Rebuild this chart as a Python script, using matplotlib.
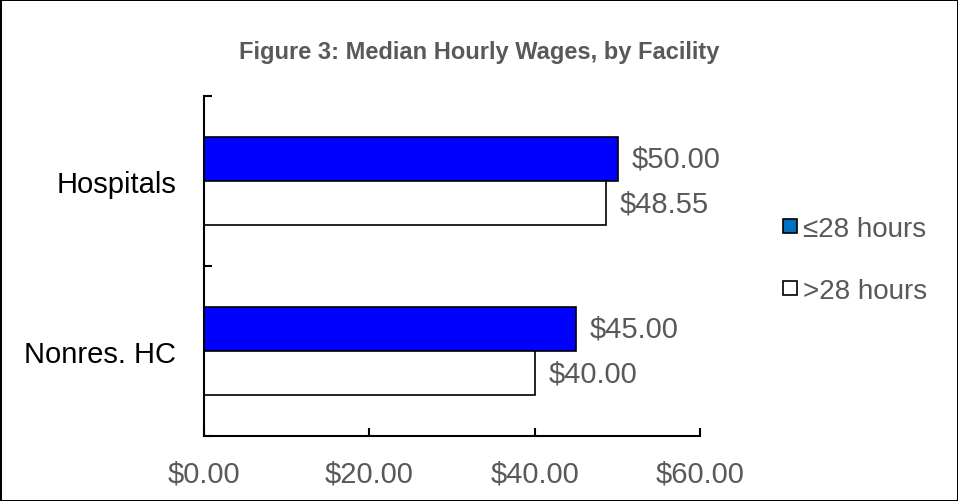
import numpy as np
import matplotlib.pyplot as plt
from matplotlib.lines import Line2D

plt.rcParams['font.family'] = ['Liberation Sans', 'DejaVu Sans']

# Datos
facilities = ['Nonres. HC', 'Hospitals']
le28 = [45.00, 50.00]
gt28 = [40.00, 48.55]
series_names = ['\u226428 hours', '>28 hours']
xticks = [0, 20, 40, 60]

gray = '#595959'

fig = plt.figure(figsize=(9.58, 5.02), dpi=100)
fig.patch.set_edgecolor('black')
fig.patch.set_linewidth(2)
ax = fig.add_axes([0.213, 0.1295, 0.518, 0.6775])

y = np.arange(len(facilities)) + 0.5
h = 0.26
b1 = ax.barh(y + h / 2, le28, height=h, color='#0000FF', edgecolor='black', linewidth=1.2)
b2 = ax.barh(y - h / 2, gt28, height=h, color='white', edgecolor='black', linewidth=1.2)
ax.bar_label(b1, labels=['$%.2f' % v for v in le28], padding=10, fontsize=21, color=gray)
ax.bar_label(b2, labels=['$%.2f' % v for v in gt28], padding=10, fontsize=21, color=gray)

ax.set_xlim(0, 60)
ax.set_ylim(0, 2)
ax.set_xticks(xticks)
ax.set_xticklabels(['$%.2f' % v for v in xticks])
ax.tick_params(axis='x', direction='in', length=6, width=1.5, labelsize=21,
               labelcolor=gray, pad=17)

ax.set_yticks([0, 1, 2])
ax.set_yticklabels([])
ax.tick_params(axis='y', which='major', direction='in', length=6, width=1.5)
ax.set_yticks(y, minor=True)
ax.set_yticklabels(facilities, minor=True)
ax.tick_params(axis='y', which='minor', length=0, labelsize=21, pad=20)

for s in ['top', 'right']:
    ax.spines[s].set_visible(False)
for s in ['left', 'bottom']:
    ax.spines[s].set_linewidth(1.5)

handles = [
    Line2D([], [], marker='s', linestyle='', markersize=10, markerfacecolor='#0070C0',
           markeredgecolor='black', markeredgewidth=1.2),
    Line2D([], [], marker='s', linestyle='', markersize=10, markerfacecolor='white',
           markeredgecolor='black', markeredgewidth=1.2),
]
leg = fig.legend(handles, series_names, loc='center left', bbox_to_anchor=(0.79, 0.48),
                 frameon=False, fontsize=20, labelspacing=1.3, handlelength=0.6,
                 handletextpad=0.15, labelcolor=gray)

fig.text(0.5, 0.895, 'Figure 3: Median Hourly Wages, by Facility', ha='center',
         va='center', fontsize=17, fontweight='bold', color=gray)

fig.savefig('out.png', dpi=100)
